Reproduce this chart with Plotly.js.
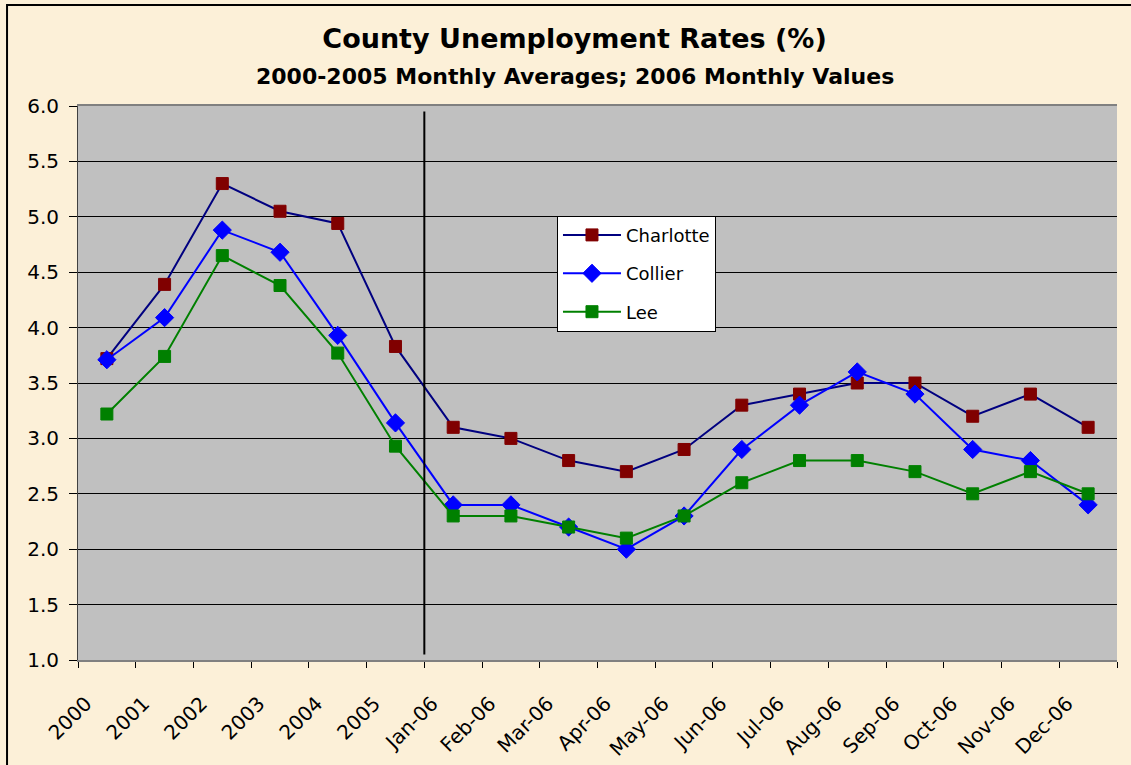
<!DOCTYPE html>
<html>
<head>
<meta charset="utf-8">
<script src="https://cdn.plot.ly/plotly-3.0.1.min.js"></script>
<style>
html,body{margin:0;padding:0;background:#fcf0d8;}
#chart{width:1131px;height:765px;}
</style>
</head>
<body>
<div id="chart"></div>
<script>
const years = ["2000","2001","2002","2003","2004","2005"];
const months = ["Jan-06","Feb-06","Mar-06","Apr-06","May-06","Jun-06","Jul-06","Aug-06","Sep-06","Oct-06","Nov-06","Dec-06"];
const categories = years.concat(months);

const charlotte = [3.72, 4.39, 5.30, 5.05, 4.94, 3.83, 3.1, 3.0, 2.8, 2.7, 2.9, 3.3, 3.4, 3.5, 3.5, 3.2, 3.4, 3.1];
const collier   = [3.71, 4.09, 4.88, 4.68, 3.93, 3.14, 2.4, 2.4, 2.2, 2.0, 2.3, 2.9, 3.3, 3.6, 3.4, 2.9, 2.8, 2.4];
const lee       = [3.22, 3.74, 4.65, 4.38, 3.77, 2.93, 2.3, 2.3, 2.2, 2.1, 2.3, 2.6, 2.8, 2.8, 2.7, 2.5, 2.7, 2.5];

const titleText = "County Unemployment Rates (%)";
const subtitleText = "2000-2005 Monthly Averages; 2006 Monthly Values";

const dividerPos = years.length - 0.5;
const font = "'DejaVu Sans', Arial, sans-serif";

const traces = [
  {x: categories, y: charlotte, name: "Charlotte", type: "scatter", mode: "lines+markers",
   legendgroup: "a",
   line: {color: "#000080", width: 2},
   marker: {symbol: "square", size: 12, color: "#800000", line: {color: "#800000", width: 1}}},
  {x: categories, y: collier, name: "Collier", type: "scatter", mode: "lines+markers",
   legendgroup: "b",
   line: {color: "#0000ff", width: 2},
   marker: {symbol: "diamond", size: 14, color: "#0000ff", line: {color: "#0000ff", width: 1}}},
  {x: categories, y: lee, name: "Lee", type: "scatter", mode: "lines+markers",
   legendgroup: "c",
   line: {color: "#008000", width: 2},
   marker: {symbol: "square", size: 12, color: "#008000", line: {color: "#008000", width: 1}}}
];

const layout = {
  width: 1131, height: 765,
  margin: {l: 78, r: 14, t: 106, b: 105},
  paper_bgcolor: "#fcf0d8",
  plot_bgcolor: "#c0c0c0",
  font: {family: font, color: "#000"},
  title: {
    text: "<b>" + titleText + "</b>",
    font: {family: font, size: 27, color: "#000"},
    x: 0.508, xanchor: "center",
    y: 0.950, yanchor: "middle", yref: "container"
  },
  annotations: [
    {text: "<b>" + subtitleText + "</b>", xref: "paper", yref: "paper",
     x: 0.478, y: 1.054, xanchor: "center", yanchor: "middle", showarrow: false,
     font: {family: font, size: 22, color: "#000"}}
  ],
  xaxis: {
    type: "category",
    tickson: "boundaries",
    ticks: "outside", ticklen: 6, tickcolor: "#000", tickwidth: 1,
    tickangle: -45,
    ticklabelshift: -21,
    ticklabelstandoff: 22,
    tickfont: {family: font, size: 20, color: "#000"},
    showgrid: false,
    showline: true, linecolor: "#808080", linewidth: 2, mirror: true,
    range: [-0.5, categories.length - 0.5],
    zeroline: false
  },
  yaxis: {
    range: [1.0, 6.0],
    dtick: 0.5,
    tickformat: ".1f",
    ticks: "outside", ticklen: 8, tickcolor: "#000",
    ticklabelstandoff: 6,
    tickfont: {family: font, size: 20, color: "#000"},
    showgrid: true, gridcolor: "#000", gridwidth: 1,
    showline: true, linecolor: "#404040", linewidth: 1,
    zeroline: false
  },
  legend: {
    x: 0.461, y: 0.802, xanchor: "left", yanchor: "top",
    bgcolor: "#ffffff", bordercolor: "#000", borderwidth: 1,
    font: {family: font, size: 18, color: "#000"},
    tracegroupgap: 12,
    traceorder: "grouped",
    itemwidth: 58
  },
  shapes: [
    {type: "line", xref: "x", yref: "paper", x0: dividerPos, x1: dividerPos, y0: 0.01, y1: 0.99,
     line: {color: "#000", width: 2}},
    {type: "rect", xref: "paper", yref: "paper", x0: -0.0683, x1: 1.05, y0: -0.3, y1: 1.1823,
     line: {color: "#000", width: 2}, fillcolor: "rgba(0,0,0,0)", layer: "below"}
  ],
  showlegend: true
};

Plotly.newPlot("chart", traces, layout, {displayModeBar: false, staticPlot: true});
</script>
</body>
</html>
